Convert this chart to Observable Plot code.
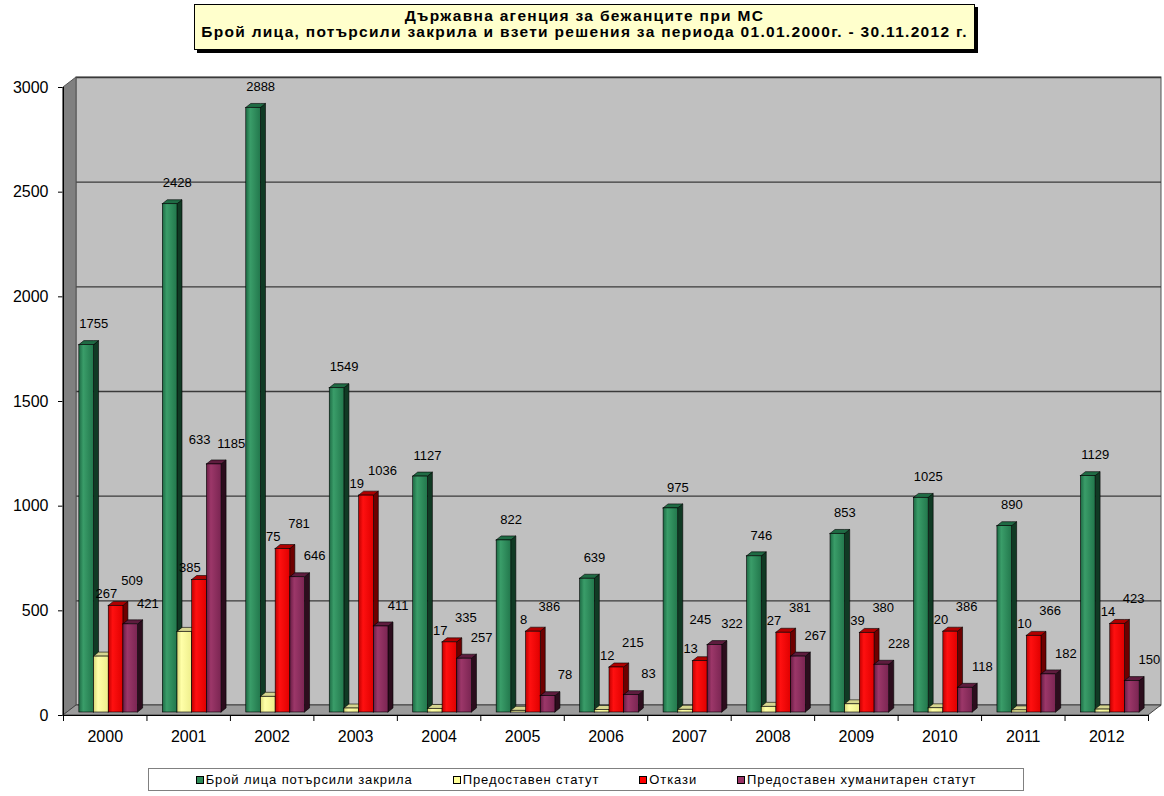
<!DOCTYPE html>
<html>
<head>
<meta charset="utf-8">
<script src="https://cdn.jsdelivr.net/npm/d3@7"></script>
<script src="https://cdn.jsdelivr.net/npm/@observablehq/plot@0.6"></script>
<style>
  html, body { margin: 0; padding: 0; background: #fff; }
  body { font-family: "Liberation Sans", Arial, sans-serif; width: 1164px; }
  #title { position: relative; height: 56px; }
  #title .box {
    position: absolute; left: 194px; top: 4px; width: 781px; height: 46px;
    box-sizing: border-box; background: #ffffcc; border: 1px solid #000;
    box-shadow: 3px 3px 0 #000; text-align: center; font-weight: bold;
    font-size: 15.5px; letter-spacing: 1.3px; line-height: 15.5px; padding-top: 3px; color: #000;
    white-space: nowrap;
  }
  #chart svg { display: block; }
  #legend { position: relative; height: 34px; }
  #legend .box {
    position: absolute; left: 148px; top: 6px; width: 876px; height: 23px;
    box-sizing: border-box; border: 1px solid #808080; background: #fff;
    display: flex; justify-content: center; align-items: center; gap: 40px;
    font-size: 13px; letter-spacing: 0.9px; color: #000;
  }
  #legend .item { display: flex; align-items: center; white-space: nowrap; }
  #legend .item i { display: inline-block; width: 6px; height: 6px; border: 1px solid #000; margin-right: 2px; }
</style>
</head>
<body>
<svg width="0" height="0" style="position:absolute">
  <defs>
    <linearGradient id="gGreen" x1="0" x2="1" y1="0" y2="0">
      <stop offset="0" stop-color="#1d6a44"/>
      <stop offset="0.3" stop-color="#3a9d69"/>
      <stop offset="1" stop-color="#22774c"/>
    </linearGradient>
    <linearGradient id="gYellow" x1="0" x2="1" y1="0" y2="0">
      <stop offset="0" stop-color="#d8d878"/>
      <stop offset="0.3" stop-color="#ffffa8"/>
      <stop offset="1" stop-color="#eeee8c"/>
    </linearGradient>
    <linearGradient id="gRed" x1="0" x2="1" y1="0" y2="0">
      <stop offset="0" stop-color="#c00000"/>
      <stop offset="0.3" stop-color="#ff1010"/>
      <stop offset="1" stop-color="#e00000"/>
    </linearGradient>
    <linearGradient id="gPurple" x1="0" x2="1" y1="0" y2="0">
      <stop offset="0" stop-color="#681d44"/>
      <stop offset="0.3" stop-color="#9c3769"/>
      <stop offset="1" stop-color="#7a2552"/>
    </linearGradient>
  </defs>
</svg>
<div id="title"><div class="box">Държавна агенция за бежанците при МС<br>Брой лица, потърсили закрила и взети решения за периода 01.01.2000г. - 30.11.2012 г.</div></div>
<div id="chart"></div>
<div id="legend"><div class="box" id="legendBox"></div></div>
<script>
// ---- data ----
const years = ["2000","2001","2002","2003","2004","2005","2006","2007","2008","2009","2010","2011","2012"];
const applied = [1755, 2428, 2888, 1549, 1127, 822, 639, 975, 746, 853, 1025, 890, 1129];
const statusGranted = [267, 385, 75, 19, 17, 8, 12, 13, 27, 39, 20, 10, 14];
const refusals = [509, 633, 781, 1036, 335, 386, 215, 245, 381, 380, 386, 366, 423];
const humanitarian = [421, 1185, 646, 411, 257, 78, 83, 322, 267, 228, 118, 182, 150];
const seriesNames = ["Брой лица потърсили закрила", "Предоставен статут", "Откази", "Предоставен хуманитарен статут"];
const yTicks = [0, 500, 1000, 1500, 2000, 2500, 3000];

// ---- styles ----
const seriesValues = [applied, statusGranted, refusals, humanitarian];
const frontFill = ["url(#gGreen)", "url(#gYellow)", "url(#gRed)", "url(#gPurple)"];
const sideFill = ["#103a24", "#8f8f4c", "#6e0000", "#2c0d1d"];
const topFill = ["#1f6b44", "#d6d690", "#b00000", "#5e1c3e"];
const legendFill = ["#2e8b57", "#ffff99", "#ff0000", "#993366"];
const labelDx = [7, 5, 16, 17];
const labelDy = [-21, -12, -25, -21];

// ---- layout ----
const W = 1164, H = 706;
const mL = 63, mR = 16, mT = 31, mB = 47;
const nCat = years.length;
const yMax = 3000;
const xUnit = (W - mL - mR) / nCat;     // px per category
const yUnit = (H - mT - mB) / yMax;     // px per value
const OFF = 0.19, BW = 0.176;           // bar placement within category
const bdx = 5 / xUnit, bdy = 4 / yUnit; // bar depth
const wdx = 13 / xUnit, wdy = 10 / yUnit; // wall depth
const lift = -3;

// ---- derived geometry ----
const bars = [];
seriesValues.forEach((vals, s) => vals.forEach((v, i) => {
  const xl = i + OFF + s * BW;
  bars.push({s, i, v, xl, xr: xl + BW, id: s * 100 + i});
}));
// label placement: keep labels clear of the neighbouring (taller) bar
const labels = bars.map(d => {
  let anchor = d.v, dx = labelDx[d.s], dy = labelDy[d.s];
  if (d.s === 1) anchor = Math.max(d.v, refusals[d.i]);
  if (d.s === 2 && humanitarian[d.i] > d.v) { anchor = humanitarian[d.i]; dx = 0; }
  return {x: (d.xl + d.xr) / 2, anchor, text: String(d.v), dx, dy: dy + lift};
});
function sidePts(d) {
  return [
    {id: d.id, x: d.xr, y1: 0, y2: d.v},
    {id: d.id, x: d.xr + bdx, y1: bdy, y2: d.v + bdy}
  ];
}
function topPts(d) {
  return [
    {id: d.id, x: d.xl, y1: d.v, y2: d.v},
    {id: d.id, x: d.xl + bdx, y1: d.v, y2: d.v + bdy},
    {id: d.id, x: d.xr, y1: d.v, y2: d.v + bdy},
    {id: d.id, x: d.xr + bdx, y1: d.v + bdy, y2: d.v + bdy}
  ];
}
const leftWall = [{x: 0, y1: 0, y2: yMax}, {x: wdx, y1: wdy, y2: yMax + wdy}];
const floor = [
  {x: 0, y1: 0, y2: 0}, {x: wdx, y1: 0, y2: wdy},
  {x: nCat, y1: 0, y2: wdy}, {x: nCat + wdx, y1: wdy, y2: wdy}
];

const marks = [
  Plot.rect([{x1: wdx, x2: nCat + wdx, y1: wdy, y2: yMax + wdy}],
    {x1: "x1", x2: "x2", y1: "y1", y2: "y2", fill: "#c0c0c0", stroke: "#555", strokeWidth: 1}),
  Plot.ruleY(yTicks, {y: d => d + wdy, x1: wdx, x2: nCat + wdx, stroke: "#3a3a3a", strokeWidth: 1.3}),
  Plot.areaY(leftWall, {x: "x", y1: "y1", y2: "y2", fill: "#808080", stroke: "#555", strokeWidth: 1}),
  Plot.areaY(floor, {x: "x", y1: "y1", y2: "y2", fill: "#9c9c9c", stroke: "#444", strokeWidth: 1}),
];
for (let s = 0; s < 4; s++) {
  const sb = bars.filter(d => d.s === s);
  marks.push(
    Plot.areaY(sb.flatMap(sidePts), {x: "x", y1: "y1", y2: "y2", z: "id", fill: sideFill[s], stroke: "#000", strokeWidth: 0.6, dy: lift}),
    Plot.areaY(sb.flatMap(topPts), {x: "x", y1: "y1", y2: "y2", z: "id", fill: topFill[s], stroke: "#000", strokeWidth: 0.6, dy: lift}),
    Plot.rect(sb, {x1: "xl", x2: "xr", y1: () => 0, y2: "v", fill: frontFill[s], stroke: "#000", strokeWidth: 0.6, dy: lift})
  );
}
marks.push(
  Plot.ruleX([0], {y1: () => 0, y2: () => yMax, stroke: "#000", strokeWidth: 1}),
  Plot.ruleY([0], {x1: () => 0, x2: () => nCat, stroke: "#000", strokeWidth: 1}),
  Plot.ruleX(d3.range(nCat + 1), {y1: () => 0, y2: () => -6 / yUnit, stroke: "#000", strokeWidth: 1}),
  ...d3.groups(labels, d => d.dx + "," + d.dy).map(([, g]) =>
    Plot.text(g, {x: "x", y: "anchor", text: "text", dx: g[0].dx, dy: g[0].dy,
      fontSize: 13, fill: "#000", fontFamily: "Liberation Sans, Arial, sans-serif"}))
);

const chart = Plot.plot({
  width: W, height: H,
  marginLeft: mL, marginRight: mR, marginTop: mT, marginBottom: mB,
  style: {fontFamily: "Liberation Sans, Arial, sans-serif", fontSize: "16px", background: "transparent", color: "#000", overflow: "visible"},
  x: {domain: [0, nCat], ticks: d3.range(nCat).map(i => i + 0.5), tickFormat: d => years[Math.floor(d)], tickSize: 0, tickPadding: 15, label: null},
  y: {domain: [0, yMax], ticks: yTicks, tickSize: 5, tickPadding: 10, label: null, tickFormat: d => String(d)},
  marks
});
document.getElementById("chart").appendChild(chart);

const lb = document.getElementById("legendBox");
seriesNames.forEach((n, s) => {
  const it = document.createElement("span");
  it.className = "item";
  const sw = document.createElement("i");
  sw.style.background = legendFill[s];
  it.appendChild(sw);
  it.appendChild(document.createTextNode(n));
  lb.appendChild(it);
});
</script>
</body>
</html>
